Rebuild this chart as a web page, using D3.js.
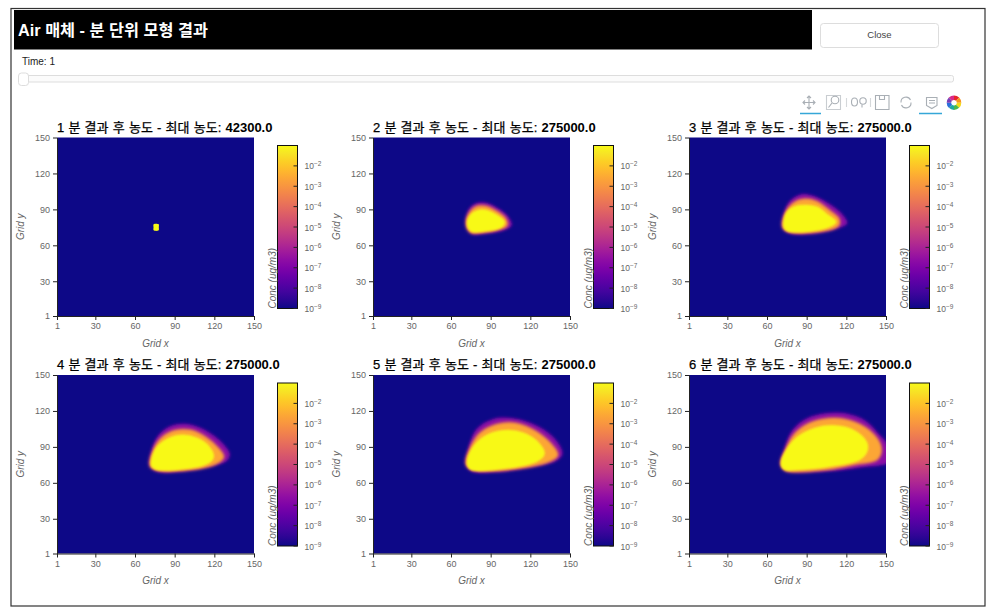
<!DOCTYPE html>
<html><head><meta charset="utf-8">
<script src="https://cdn.jsdelivr.net/npm/d3@7/dist/d3.min.js"></script>
<style>html,body{margin:0;padding:0;background:#fff;overflow:hidden}svg{display:block}
text{font-family:"Liberation Sans","Noto Sans CJK KR",sans-serif}</style>
</head><body><svg id="c" width="993" height="611"></svg>
<script>
const headerTitle = "Air 매체 - 분 단위 모형 결과";
const minutes = [1,2,3,4,5,6];
const maxConc = ["42300.0","275000.0","275000.0","275000.0","275000.0","275000.0"];
const gridTicks = [1,30,60,90,120,150];
const colorExponents = [-9,-8,-7,-6,-5,-4,-3,-2];
// Contours of the plume, in grid coordinates [x, y]
const edgeContours = [
 [[74.1,72.5],[77.9,72.5],[78,75],[77.9,77.5],[74.1,77.5],[74,75]],
 [[71.4,78.2],[73.1,89.3],[78.2,94.8],[87,95.4],[95.8,90.7],[103.4,83.7],[105.9,76.8],[99.6,72.6],[84.5,69.9],[75.6,69.9]],
 [[71.8,75.4],[72.8,86.5],[77.3,97],[86.1,102.6],[97.5,100.4],[108.8,93.4],[117.6,85.1],[120.7,78.2],[112.6,74],[95,69.9],[76,70.4]],
 [[71.3,74.5],[72.5,87],[77.6,99.5],[86.4,107.2],[99,109.2],[111.6,105],[124.2,95.3],[131.7,84.2],[129.7,78.7],[114.1,73.2],[88.9,69],[76.3,69.6]],
 [[71.3,75.9],[73,88.4],[79.4,105],[92,113.3],[107.1,113.9],[124.7,107.8],[138.6,96.7],[144.4,84.2],[139.8,78.7],[119.7,73.2],[92,69],[75.6,69.6]],
 [[70.3,75.9],[72.8,87],[79,103.6],[89.2,113.3],[104.3,118],[119.4,118],[134.5,111.9],[144.6,100.8],[150.9,92.5],[152,77.3],[132,73],[107,69.8],[81.6,69],[74,70.3]]
];
const midContours = [
 [[74.1,72.5],[77.9,72.5],[78,75],[77.9,77.5],[74.1,77.5],[74,75]],
 [[71.9,78.2],[74.9,87.9],[79.4,92],[87,92],[94.5,87.9],[100.8,82.3],[102.1,76.8],[97,74],[84.5,71.3],[74.9,71.3]],
 [[72.3,75.4],[74.3,86.5],[79.3,94.3],[87.4,98.1],[97.5,96.2],[106.3,89.3],[113.9,82.3],[113.9,76.8],[95,71.3],[76,72.1]],
 [[71.8,74.5],[74.3,87],[79.3,96.2],[88.9,102.8],[101.5,103.6],[112.8,98.1],[122.9,88.4],[126.7,81.5],[120.4,75.9],[91.4,70.4],[76.3,71.2]],
 [[71.8,75.9],[74.8,88.4],[81.9,100.9],[94.5,108.3],[109.6,109.2],[124.7,102.2],[137.3,89.8],[140.3,82.9],[132.3,77.3],[92,70.4],[75.6,71.8]],
 [[71,75.9],[74.5,87],[80.3,99.4],[91.7,109.1],[106.8,113.3],[121.9,111.9],[137,103.6],[145.9,89.7],[143.3,80],[127,75.9],[106.8,71.7],[74,70.9]]
];
const coreContours = [
 [[74.1,72.5],[77.9,72.5],[78,75],[77.9,77.5],[74.1,77.5],[74,75]],
 [[73.1,78.2],[75.6,85.1],[81.9,88.7],[88.2,87.9],[94.5,84.3],[99.6,79.6],[97,75.4],[84.5,72.6],[75.6,72.6]],
 [[73.5,75.4],[75.3,86.5],[81.1,91.5],[89.9,92.6],[98.7,90.7],[105,85.1],[111.3,79.6],[105,75.4],[92.4,72.6],[76,72.6]],
 [[73.3,74.5],[75.8,87],[82.6,94.5],[93.9,98.9],[106.5,96.7],[115.4,89.8],[118.6,81.5],[112.8,75.9],[91.4,71.8],[76.3,71.8]],
 [[73.1,75.9],[76.8,88.4],[85.7,98.1],[99.5,102.8],[114.6,100.9],[126,92.5],[129.8,84.2],[124.7,78.7],[92,71.8],[75.6,71.8]],
 [[71.5,75.9],[75.3,87],[84,98],[96.7,105],[111.8,106.9],[124.4,103.6],[134.5,93.9],[135,87],[129.5,80],[107,74.5],[81.6,71.7],[74,71.7]]
];
const wheelColors = ["#e8262a","#f7941d","#f5d916","#4cb848","#1fa8a0","#2a6fdb","#7b3fb5","#d92a8a"];

const svg = d3.select("#c");
const W = 197, H = 178.5, panelLefts = [57,373,689], panelBottoms = [316,553.5];
const plasma = d3.interpolatePlasma;
const defs = svg.append("defs");
const grad = defs.append("linearGradient").attr("id","plasmaGrad").attr("x1",0).attr("x2",0).attr("y1",1).attr("y2",0);
d3.range(0,21).forEach(i=>grad.append("stop").attr("offset",i/20).attr("stop-color",i===20?"#f8f918":plasma(i/20)));
[["b1",0.5],["bEdge",1.7],["bPink",2.6],["bAmber",1.5],["bCore",0.9]].forEach(([id,s])=>{
  defs.append("filter").attr("id",id).attr("x","-25%").attr("y","-25%").attr("width","150%").attr("height","150%")
    .append("feGaussianBlur").attr("stdDeviation",s);
});

// Frame
svg.append("rect").attr("x",11).attr("y",8.5).attr("width",974).attr("height",597.5).attr("fill","#fff").attr("stroke","#333").attr("stroke-width",1.2);
svg.append("rect").attr("x",14).attr("y",10).attr("width",798).attr("height",39.5).attr("fill","#000");
svg.append("text").attr("x",18).attr("y",35.5).attr("fill","#fff").attr("font-weight","bold").attr("font-size",16.3).text(headerTitle);
svg.append("rect").attr("x",820.5).attr("y",23.5).attr("width",118).attr("height",24).attr("rx",3).attr("fill","#fff").attr("stroke","#ddd");
svg.append("text").attr("x",879.5).attr("y",37.5).attr("text-anchor","middle").attr("font-size",9.5).attr("fill","#444").text("Close");
svg.append("text").attr("x",22).attr("y",65).attr("font-size",10).attr("fill","#222").text("Time: 1");
svg.append("rect").attr("x",20.5).attr("y",75.5).attr("width",933).attr("height",6.5).attr("rx",2).attr("fill","#fbfbfb").attr("stroke","#ddd");
svg.append("rect").attr("x",18.5).attr("y",73).attr("width",10).attr("height",12.5).attr("rx",3).attr("fill","#fff").attr("stroke","#ddd");

// Toolbar
const tb = svg.append("g").attr("fill","none").attr("stroke","#a9afb5").attr("stroke-width",1.1);
tb.append("path").attr("d","M809 96v13M802.5 102.5h13M807 98l2-2 2 2M807 107l2 2 2-2M805 100.5l-2 2 2 2M813 100.5l2 2-2 2");
tb.append("path").attr("d","M826.5 95.5h14v14h-14z").attr("stroke","#c9cdd1");
tb.append("circle").attr("cx",835).attr("cy",100).attr("r",3.8);
tb.append("path").attr("d","M832 103l-3.5 4.5");
tb.append("path").attr("d","M846.5 98v9M870.5 98v9").attr("stroke","#d5d8da");
tb.append("ellipse").attr("cx",854.5).attr("cy",102).attr("rx",3).attr("ry",4);
tb.append("circle").attr("cx",863).attr("cy",101).attr("r",3.2);
tb.append("path").attr("d","M862 104.5v3");
tb.append("path").attr("d","M875.5 95.5h13.5v14h-13.5zM879.5 95.5v4h5v-4");
tb.append("path").attr("d","M901 102.5a5 5 0 0 1 9.5-2.5M911 102.5a5 5 0 0 1-9.5 2.5");
tb.append("path").attr("d","M926.5 97.5h10.5v8l-5.2 3-5.3-3zM929 100.5h6M929 103h6");
tb.append("path").attr("d","M800 113.5h21M919 113.5h23").attr("stroke","#35a7d8").attr("stroke-width",1.3);
const wheelArc = d3.arc().innerRadius(2.8).outerRadius(7.3);
svg.append("g").attr("transform","translate(954,102.7)").selectAll("path")
  .data(d3.pie().value(1).sort(null)(wheelColors)).join("path").attr("d",wheelArc).attr("fill",d=>d.data);

// Panels
const line = d3.line().curve(d3.curveCatmullRomClosed.alpha(0.5));
minutes.forEach((m,i)=>{
  const L = panelLefts[i%3], B = panelBottoms[Math.floor(i/3)], T = B-H;
  const x = d3.scaleLinear().domain([1,150]).range([L,L+W]);
  const y = d3.scaleLinear().domain([1,150]).range([B,T]);
  const g = svg.append("g");
  const clipId = "clip"+i;
  defs.append("clipPath").attr("id",clipId).append("rect").attr("x",L).attr("y",T).attr("width",W).attr("height",H);
  g.append("rect").attr("x",L).attr("y",T).attr("width",W).attr("height",H).attr("fill",plasma(0));
  const plume = g.append("g").attr("clip-path",`url(#${clipId})`);
  line.x(d=>x(d[0])).y(d=>y(d[1]));
  if(i>0){
    plume.append("path").attr("d",line(edgeContours[i])).attr("fill","#8a0ca5").attr("filter","url(#bEdge)");
    plume.append("path").attr("d",line(midContours[i])).attr("fill","#d8576b").attr("filter","url(#bPink)");
    plume.append("path").attr("d",line(midContours[i])).attr("fill","#fca636").attr("stroke","#fca636").attr("stroke-width",1.5).attr("filter","url(#bAmber)");
  }
  plume.append("path").attr("d",line(coreContours[i])).attr("fill","#f8f918").attr("stroke",i>0?"#f8f918":"none").attr("stroke-width",3).attr("stroke-linejoin","round").attr("filter",i>0?"url(#bCore)":"url(#b1)");

  const style = a=>{
    a.selectAll("text").attr("fill","#666").attr("font-size",9).style("font-family","inherit");
    a.selectAll("line").attr("stroke","#222");
    a.select(".domain").attr("stroke","#222");
  };
  g.append("g").attr("transform",`translate(0,${B})`).call(d3.axisBottom(x).tickValues(gridTicks).tickSize(4).tickSizeOuter(0).tickPadding(3)).call(style);
  g.append("g").attr("transform",`translate(${L},0)`).call(d3.axisLeft(y).tickValues(gridTicks).tickSize(4).tickSizeOuter(0).tickPadding(3)).call(style);

  const tt = g.append("text").attr("x",L).attr("y",T-6).attr("font-size",13).attr("word-spacing",0.6).attr("fill","#000");
  tt.append("tspan").attr("stroke","#000").attr("stroke-width",0.25).text(`${m} 분 결과 후 농도 - 최대 농도: `);
  tt.append("tspan").attr("font-weight","bold").text(maxConc[i]);
  g.append("text").attr("x",L+W/2).attr("y",B+30.5).attr("text-anchor","middle").attr("font-size",10).attr("font-style","italic").attr("fill","#666").text("Grid x");
  g.append("text").attr("transform",`translate(${L-33.5},${(T+B)/2}) rotate(-90)`).attr("text-anchor","middle").attr("font-size",10).attr("font-style","italic").attr("fill","#666").text("Grid y");

  // Colour bar
  const bx = L+220.5, bw = 20, bTop = T+8, bBot = B-7.5;
  const c = d3.scaleLog().domain([1e-9,1e-1]).range([bBot,bTop]);
  g.append("rect").attr("x",bx).attr("y",bTop).attr("width",bw).attr("height",bBot-bTop).attr("fill","url(#plasmaGrad)").attr("stroke","#111").attr("stroke-width",1);
  colorExponents.forEach(e=>{
    const v = Math.pow(10,e), py = c(v);
    g.append("line").attr("x1",bx+bw-4).attr("x2",bx+bw).attr("y1",py).attr("y2",py).attr("stroke","#222");
    const t = g.append("text").attr("x",bx+bw+7).attr("y",py+3.5).attr("font-size",8.5).attr("fill","#666");
    t.append("tspan").text("10");
    t.append("tspan").attr("dy",-3).attr("font-size",6.5).text("\u2212"+Math.abs(e));
  });
  g.append("text").attr("transform",`translate(${bx-2},${bBot}) rotate(-90)`).attr("font-size",10).attr("font-style","italic").attr("fill","#666").text("Conc (ug/m3)");
});
</script></body></html>
